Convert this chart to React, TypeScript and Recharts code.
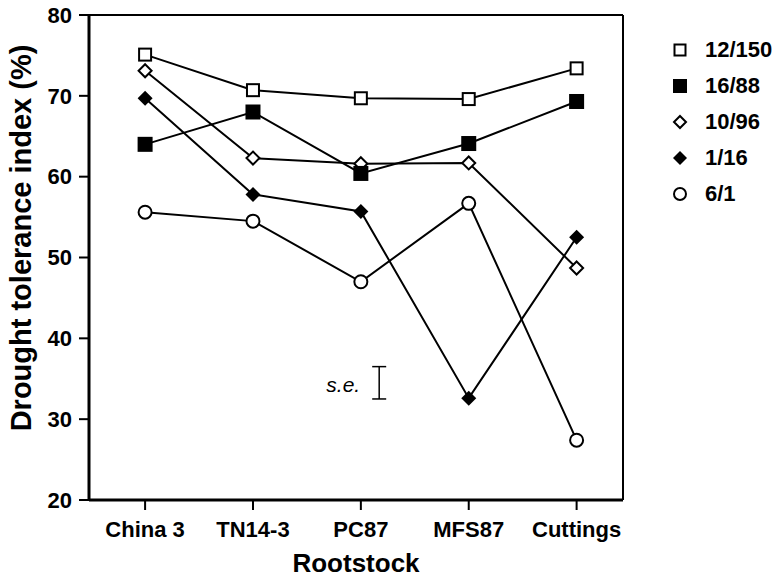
import React from 'react'
import {
  ComposedChart,
  ErrorBar,
  Legend,
  Line,
  ReferenceLine,
  Scatter,
  XAxis,
  YAxis,
} from 'recharts'

const categories = ['China 3', 'TN14-3', 'PC87', 'MFS87', 'Cuttings']
const positions = [1, 2, 3, 4, 5]

const clone12_150 = [75.1, 70.7, 69.7, 69.6, 73.4]
const clone16_88 = [64.0, 68.0, 60.4, 64.1, 69.3]
const clone10_96 = [73.1, 62.3, 61.6, 61.7, 48.7]
const clone1_16 = [69.7, 57.8, 55.7, 32.6, 52.5]
const clone6_1 = [55.6, 54.5, 47.0, 56.7, 27.4]

const yTicks = [20, 30, 40, 50, 60, 70, 80]

// barra de erro padrão desenhada no meio do gráfico
const seMarker = [{ x: 3.17, y: 34.5, err: 2 }]

const xMin = 0.48
const xMax = 5.43
const font = '"Liberation Sans", Arial, Helvetica, sans-serif'

type Kind = 'openSquare' | 'square' | 'openDiamond' | 'diamond' | 'openCircle'

const series: { key: string; name: string; kind: Kind }[] = [
  { key: 'c12_150', name: '12/150', kind: 'openSquare' },
  { key: 'c10_96', name: '10/96', kind: 'openDiamond' },
  { key: 'c16_88', name: '16/88', kind: 'square' },
  { key: 'c1_16', name: '1/16', kind: 'diamond' },
  { key: 'c6_1', name: '6/1', kind: 'openCircle' },
]

const legendOrder: { name: string; kind: Kind }[] = [
  { name: '12/150', kind: 'openSquare' },
  { name: '16/88', kind: 'square' },
  { name: '10/96', kind: 'openDiamond' },
  { name: '1/16', kind: 'diamond' },
  { name: '6/1', kind: 'openCircle' },
]

const dados = positions.map((x, i) => ({
  x,
  nome: categories[i],
  c12_150: clone12_150[i],
  c16_88: clone16_88[i],
  c10_96: clone10_96[i],
  c1_16: clone1_16[i],
  c6_1: clone6_1[i],
}))

function Marker({ cx, cy, kind, s = 7 }: { cx: number; cy: number; kind: Kind; s?: number }) {
  if (cx == null || cy == null) return null
  switch (kind) {
    case 'openSquare':
      return <rect x={cx - s + 1} y={cy - s + 1} width={2 * s - 2} height={2 * s - 2} fill="#fff" stroke="#000" strokeWidth={2} />
    case 'square':
      return <rect x={cx - s - 0.5} y={cy - s - 0.5} width={2 * s + 1} height={2 * s + 1} fill="#000" />
    case 'openDiamond':
      return (
        <polygon
          points={`${cx},${cy - s + 0.5} ${cx + s - 0.5},${cy} ${cx},${cy + s - 0.5} ${cx - s + 0.5},${cy}`}
          fill="#fff"
          stroke="#000"
          strokeWidth={2}
        />
      )
    case 'diamond':
      return (
        <polygon
          points={`${cx},${cy - s - 0.5} ${cx + s + 0.5},${cy} ${cx},${cy + s + 0.5} ${cx - s - 0.5},${cy}`}
          fill="#000"
        />
      )
    default:
      return <circle cx={cx} cy={cy} r={s - 0.5} fill="#fff" stroke="#000" strokeWidth={2} />
  }
}

function LegendaClones() {
  return (
    <div style={{ fontFamily: font, fontWeight: 'bold', fontSize: 22, color: '#000' }}>
      {legendOrder.map((item) => (
        <div key={item.name} style={{ display: 'flex', alignItems: 'center', height: 36 }}>
          <svg width={24} height={24} style={{ marginRight: 13 }}>
            <Marker cx={12} cy={12} kind={item.kind} s={6.5} />
          </svg>
          <span>{item.name}</span>
        </div>
      ))}
    </div>
  )
}

function TituloY() {
  return (
    <text
      transform="translate(21,238) rotate(-90)"
      textAnchor="middle"
      dominantBaseline="central"
      fontFamily={font}
      fontWeight="bold"
      fontSize={29}
      fill="#000"
    >
      Drought tolerance index (%)
    </text>
  )
}

function SeLabel(props: any) {
  const { cx, cy } = props
  return (
    <text x={cx - 19} y={cy + 9} textAnchor="end" fontFamily={font} fontStyle="italic" fontSize={21} fill="#000">
      s.e.
    </text>
  )
}

export default function App() {
  return (
    <div style={{ position: 'absolute', left: 0, top: 0, width: 776, height: 579, background: '#fff' }}>
      <ComposedChart width={776} height={579} data={dados} margin={{ top: 15, right: 43, bottom: 0, left: 0 }}>
        <XAxis
          type="number"
          dataKey="x"
          domain={[xMin, xMax]}
          ticks={positions}
          tickFormatter={(v: number) => categories[v - 1]}
          allowDataOverflow
          axisLine={{ stroke: '#000', strokeWidth: 3 }}
          tickLine={{ stroke: '#000', strokeWidth: 2 }}
          tickSize={10}
          tickMargin={11}
          tick={{ fill: '#000', fontFamily: font, fontWeight: 'bold', fontSize: 22 }}
          height={79}
          label={{
            value: 'Rootstock',
            position: 'insideBottom',
            offset: 7,
            fill: '#000',
            fontFamily: font,
            fontWeight: 'bold',
            fontSize: 26,
          }}
        />
        <YAxis
          type="number"
          domain={[20, 80]}
          ticks={yTicks}
          interval={0}
          width={89}
          axisLine={{ stroke: '#000', strokeWidth: 3 }}
          tickLine={{ stroke: '#000', strokeWidth: 2 }}
          tickSize={10}
          tickMargin={7}
          tick={{ fill: '#000', fontFamily: font, fontWeight: 'bold', fontSize: 22 }}
          label={{ content: <TituloY /> }}
        />
        <ReferenceLine y={80} stroke="#000" strokeWidth={2} />
        <ReferenceLine x={xMax} stroke="#000" strokeWidth={2} />
        <Legend
          layout="vertical"
          align="right"
          verticalAlign="top"
          content={<LegendaClones />}
          wrapperStyle={{ left: 668, top: 32, width: 110 }}
        />
        {series.map((s) => (
          <Line
            key={s.key}
            dataKey={s.key}
            name={s.name}
            type="linear"
            stroke="#000"
            strokeWidth={2}
            isAnimationActive={false}
            legendType="none"
            dot={(p: any) => <Marker key={`${s.key}-${p.index}`} cx={p.cx} cy={p.cy} kind={s.kind} />}
            activeDot={false}
          />
        ))}
        <Scatter data={seMarker} dataKey="y" shape={<SeLabel />} isAnimationActive={false} legendType="none">
          <ErrorBar dataKey="err" direction="y" width={7} stroke="#000" strokeWidth={1.5} isAnimationActive={false} />
        </Scatter>
      </ComposedChart>
    </div>
  )
}
